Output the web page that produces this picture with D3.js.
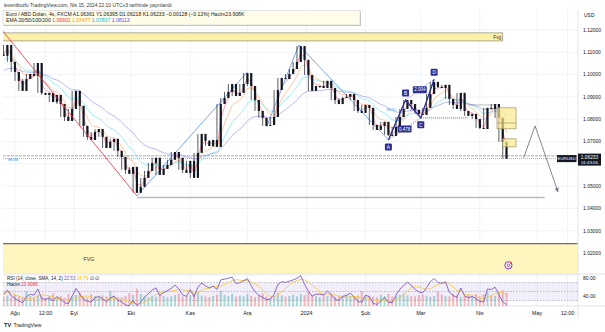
<!DOCTYPE html>
<html><head><meta charset="utf-8">
<script src="https://cdn.jsdelivr.net/npm/d3@7"></script>
<style>body{margin:0;background:#fff}svg{display:block}text{font-family:"Liberation Sans",Arial,sans-serif}</style>
</head><body><svg id="c" width="605" height="332"></svg>
<script>
// ---------- DATA ----------
const barStart = new Date(2023, 6, 26); // first bar date, one bar every 2 days
const closes = [1.1084,1.1133,1.1057,1.1012,1.0972,1.0927,1.0980,1.1003,1.0994,1.1052,
1.0918,1.0909,1.0918,1.0877,1.0909,1.0868,1.0810,1.0792,1.0846,1.0927,
1.0860,1.0770,1.0721,1.0707,1.0743,1.0756,1.0721,1.0671,1.0698,1.0712,
1.0658,1.0631,1.0573,1.0555,1.0586,1.0470,1.0497,1.0537,1.0568,1.0604,
1.0627,1.0550,1.0577,1.0595,1.0618,1.0653,1.0627,1.0573,1.0559,1.0613,
1.0537,1.0649,1.0734,1.0703,1.0680,1.0707,1.0676,1.0868,1.0895,1.0922,
1.0958,1.0904,1.0918,1.0958,1.1007,1.0949,1.0886,1.0837,1.0806,1.0770,
1.0774,1.0810,1.0931,1.0985,1.0980,1.1003,1.1025,1.1057,1.1128,1.1066,
1.0998,1.0927,1.0949,1.0949,1.0940,1.0972,1.0940,1.0886,1.0868,1.0895,
1.0900,1.0913,1.0886,1.0837,1.0828,1.0864,1.0851,1.0774,1.0752,1.0770,
1.0788,1.0730,1.0725,1.0765,1.0810,1.0846,1.0886,1.0868,1.0842,1.0824,
1.0819,1.0851,1.0913,1.0967,1.0945,1.0940,1.0954,1.0891,1.0864,1.0846,
1.0918,1.0837,1.0815,1.0824,1.0801,1.0761,1.0756,1.0851,1.0846,1.0868,
1.0806,1.0698,1.0623];
const firstOpen = 1.1090;
const volumes = [28,31,25,34,29,27,45,30,26,33,29,24,31,38,27,30,25,36,29,33,
41,28,26,35,30,27,32,29,44,31,27,26,30,38,33,52,36,29,27,31,
28,34,30,26,29,33,37,28,30,32,35,40,31,29,27,30,34,46,33,30,
36,28,31,29,35,30,27,33,38,29,24,31,39,32,28,30,34,29,36,33,
42,31,29,27,33,30,35,28,31,29,34,30,27,32,45,29,31,28,26,33,
30,36,29,31,34,38,32,30,29,33,35,31,28,30,43,34,30,29,37,32,
28,31,33,30,36,29,35,41,32,30,38,48,40];
const emaPeriods = [20, 50, 100, 200];
const emaSeeds = [1.1100, 1.1095, 1.1060, 1.1010];
const emaColors = ["#f7525f", "#ff9850", "#4ae0e6", "#7b7ff0"];
const emaLegendValues = ["1.06901", "1.07477", "1.07837", "1.08113"];
const emaLegendColors = ["#f23645", "#ff9800", "#00bcd4", "#3d5afe"];
const priceTicks = [1.12,1.11,1.10,1.09,1.08,1.07,1.05,1.04,1.03,1.02];
const timeTicks = [
 {d:new Date(2023,7,1), t:"Ağu"}, {d:new Date(2023,7,17), t:"12:00"},
 {d:new Date(2023,8,1), t:"Eyl"}, {d:new Date(2023,9,1), t:"Eki"},
 {d:new Date(2023,10,1), t:"Kas"}, {d:new Date(2023,11,1), t:"Ara"},
 {d:new Date(2024,0,1), t:"2024"}, {d:new Date(2024,1,1), t:"Şub"},
 {d:new Date(2024,2,1), t:"Mar"}, {d:new Date(2024,3,1), t:"Nis"},
 {d:new Date(2024,4,1), t:"May"}, {d:new Date(2024,4,17), t:"12:00"}];
const lastPrice = 1.06233;
const fvgTop = {p1:1.1151, p2:1.1187, d1:new Date(2023,6,24), d2:new Date(2024,3,13)};
const fvgBottom = {p1:1.0100, p2:1.0242};
const supportLine = {p:1.0449, d1:new Date(2023,9,4), d2:new Date(2024,4,5)};
const mobLine = 1.0636;
const redTrend = [{d:new Date(2023,6,24), p:1.1212}, {d:new Date(2023,9,4), p:1.0456}];
const blueTrends = [
 [{d:new Date(2023,9,4), p:1.0456}, {d:new Date(2023,11,1), p:1.1012}],
 [{d:new Date(2023,11,11), p:1.0765}, {d:new Date(2023,11,28), p:1.1133}],
 [{d:new Date(2023,11,28), p:1.1133}, {d:new Date(2024,1,13), p:1.0707}]];
const xabcd = [
 {k:"A", d:new Date(2024,1,13), p:1.0707}, {k:"B", d:new Date(2024,1,22), p:1.0886},
 {k:"C", d:new Date(2024,2,1), p:1.0806}, {k:"D", d:new Date(2024,2,8), p:1.0979}];
const ratios = [{t:"0.478", a:0, b:2}, {t:"2.004", a:1, b:3}];
const orderBoxes = [
 {d1:new Date(2024,3,10), d2:new Date(2024,3,20), p1:1.0757, p2:1.0851, mid:1.0783},
 {d1:new Date(2024,3,13), d2:new Date(2024,3,20), p1:1.0676, p2:1.0712, mid:null}];
const dottedLevels = [
 {p:1.0806, d1:new Date(2024,2,1), d2:new Date(2024,2,26)},
 {p:1.0864, d1:new Date(2024,2,26), d2:new Date(2024,3,10)}];
const projection = [{d:new Date(2024,3,24), p:1.0627}, {d:new Date(2024,3,30), p:1.0770}, {d:new Date(2024,4,12), p:1.0474}];

// ---------- LAYOUT ----------
const svg = d3.select("#c");
const L = 3, R = 578, mainTop = 10, mainBot = 274, rsiTop = 274, rsiBot = 306;
const x = d3.scaleTime().domain([new Date(2023,7,1), new Date(2024,4,1)]).range([15, 537]);
const y = d3.scaleLinear().domain([1.02, 1.12]).range([253, 30]);
const yRsi = d3.scaleLinear().domain([40, 80]).range([296, 278]);
const yVol = d3.scaleLinear().domain([0, 60]).range([rsiBot, 286]);

const bars = closes.map((c,i)=>({date:d3.timeDay.offset(barStart, 2*i), open: i ? closes[i-1] : firstOpen, close:c, next: i<closes.length-1 ? closes[i+1] : c, vol:volumes[i]}));

svg.append("rect").attr("width",605).attr("height",332).attr("fill","#fff");
const defs = svg.append("defs");
defs.append("clipPath").attr("id","mainClip").append("rect").attr("x",L).attr("y",mainTop).attr("width",R-L).attr("height",mainBot-mainTop);
defs.append("clipPath").attr("id","rsiClip").append("rect").attr("x",L).attr("y",rsiTop).attr("width",R-L).attr("height",rsiBot-rsiTop);
defs.append("marker").attr("id","arrow").attr("viewBox","0 0 10 10").attr("refX",9).attr("refY",5)
 .attr("markerWidth",5).attr("markerHeight",5).attr("orient","auto")
 .append("path").attr("d","M0,0 L10,5 L0,10 z").attr("fill","#787b86");

// grid
const grid = svg.append("g");
grid.selectAll("line.v").data(timeTicks).join("line").attr("x1",d=>x(d.d)).attr("x2",d=>x(d.d))
 .attr("y1",mainTop).attr("y2",rsiBot).attr("stroke","#f0f3fa").attr("stroke-width",1);
grid.selectAll("line.h").data(d3.range(1.01,1.125,0.01)).join("line").attr("x1",L).attr("x2",R)
 .attr("y1",d=>y(d)).attr("y2",d=>y(d)).attr("stroke","#f0f3fa");

const main = svg.append("g").attr("clip-path","url(#mainClip)");

// FVG zones
main.append("rect").attr("x",L).attr("width",R-L).attr("y",y(fvgBottom.p2)).attr("height",y(fvgBottom.p1)-y(fvgBottom.p2))
 .attr("fill","#fff6bf");
main.append("line").attr("x1",L).attr("x2",R).attr("y1",y(fvgBottom.p2)).attr("y2",y(fvgBottom.p2)).attr("stroke","#6a6d78").attr("stroke-width",1.3);
main.append("text").attr("x",x(new Date(2023,8,6))).attr("y",y((fvgBottom.p1+fvgBottom.p2)/2)+2).attr("font-size",5.2).attr("fill","#333").text("FVG");
main.append("rect").attr("x",x(fvgTop.d1)).attr("width",x(fvgTop.d2)-x(fvgTop.d1)).attr("y",y(fvgTop.p2)).attr("height",y(fvgTop.p1)-y(fvgTop.p2))
 .attr("fill","#fdf0a8").attr("stroke","#8d8a78").attr("stroke-width",0.7);
main.append("text").attr("x",x(fvgTop.d2)-1.5).attr("y",y((fvgTop.p1+fvgTop.p2)/2)+1.7).attr("text-anchor","end").attr("font-size",4.8).attr("fill","#333").text("Fvg");

// horizontal levels
main.append("line").attr("x1",x(supportLine.d1)).attr("x2",x(supportLine.d2)).attr("y1",y(supportLine.p)).attr("y2",y(supportLine.p))
 .attr("stroke","#b8bbc4").attr("stroke-width",1.6);
main.append("line").attr("x1",L).attr("x2",R).attr("y1",y(mobLine)).attr("y2",y(mobLine)).attr("stroke","#c3c5cc").attr("stroke-width",1.4).attr("stroke-dasharray","3,1");
main.append("line").attr("x1",L).attr("x2",R).attr("y1",y(lastPrice)).attr("y2",y(lastPrice)).attr("stroke","#9a9ca5").attr("stroke-width",0.8).attr("stroke-dasharray","1,1");
main.append("text").attr("x",8).attr("y",y(mobLine)+5.5).attr("font-size",4.3).attr("fill","#2196f3").text("MOB");

// EMAs
emaPeriods.forEach((n,k)=>{
  const alpha = 2/(n/8.6+1);
  let v = emaSeeds[k];
  const pts = bars.map(b=>{ v = v + alpha*(b.close - v); return {d:b.date, v}; });
  main.append("path").datum(pts).attr("fill","none").attr("stroke",emaColors[k]).attr("stroke-width",0.9).attr("opacity",0.6)
   .attr("d", d3.line().curve(d3.curveMonotoneX).x(d=>x(d.d)).y(d=>y(d.v)));
});

// blue trend lines
main.selectAll("path.bt").data(blueTrends).join("path").attr("fill","none").attr("stroke","#7ea6f5").attr("stroke-width",1)
 .attr("d", d3.line().x(d=>x(d.d)).y(d=>y(d.p)));

// candles
const bw = 2.2;
main.selectAll("line.w").data(bars).join("line")
 .attr("x1",d=>x(d.date)).attr("x2",d=>x(d.date))
 .attr("y1",d=>y(Math.max(d.open,d.close,d.next))).attr("y2",d=>y(Math.min(d.open,d.close,d.next)))
 .attr("stroke","#131722").attr("stroke-width",0.7);
main.selectAll("rect.c").data(bars).join("rect")
 .attr("x",d=>x(d.date)-bw/2).attr("width",bw)
 .attr("y",d=>y(Math.max(d.open,d.close))).attr("height",d=>Math.max(1,Math.abs(y(d.open)-y(d.close))))
 .attr("fill","#131722");

// red trend line
main.append("path").datum(redTrend).attr("fill","none").attr("stroke","#f23645").attr("stroke-width",1).attr("opacity",0.85)
 .attr("d", d3.line().x(d=>x(d.d)).y(d=>y(d.p)));

// XABCD
const navy = "#2e2f8f";
const ln = d3.line().x(d=>x(d.d)).y(d=>y(d.p));
main.append("path").datum(xabcd).attr("fill","none").attr("stroke",navy).attr("stroke-width",1.4).attr("d",ln);
ratios.forEach(r=>{
  const a = xabcd[r.a], b = xabcd[r.b];
  main.append("path").datum([a,b]).attr("fill","none").attr("stroke",navy).attr("stroke-width",0.7).attr("stroke-dasharray","1,1.5").attr("d",ln);
  const mx = (x(a.d)+x(b.d))/2, my = (y(a.p)+y(b.p))/2;
  const g = main.append("g").attr("transform",`translate(${mx},${my})`);
  g.append("rect").attr("x",-7).attr("y",-3.5).attr("width",14).attr("height",7).attr("rx",1).attr("fill",navy);
  g.append("text").attr("y",1.6).attr("text-anchor","middle").attr("font-size",4.5).attr("fill","#fff").text(r.t);
});
xabcd.forEach((pt,i)=>{
  const up = (i%2===1);
  const g = main.append("g").attr("transform",`translate(${x(pt.d)},${y(pt.p)+(up?-7:7)})`);
  g.append("rect").attr("x",-3.5).attr("y",-3.5).attr("width",7).attr("height",7).attr("rx",1).attr("fill",navy);
  g.append("text").attr("y",1.7).attr("text-anchor","middle").attr("font-size",4.7).attr("fill","#fff").text(pt.k);
});
main.append("text").attr("x",x(xabcd[0].d)-2).attr("y",y(1.0835)).attr("font-size",4.1).attr("fill","#42a5f5").text("MOD");

// order boxes
orderBoxes.forEach(b=>{
  main.append("rect").attr("x",x(b.d1)).attr("width",x(b.d2)-x(b.d1)).attr("y",y(b.p2)).attr("height",y(b.p1)-y(b.p2))
   .attr("fill","#fbe98a").attr("fill-opacity",0.7).attr("stroke","#9c9470").attr("stroke-width",0.7);
  if (b.mid) main.append("line").attr("x1",x(b.d1)).attr("x2",x(b.d2)).attr("y1",y(b.mid)).attr("y2",y(b.mid)).attr("stroke","#9c9470").attr("stroke-width",0.7);
});
dottedLevels.forEach(l=>{
  main.append("line").attr("x1",x(l.d1)).attr("x2",x(l.d2)).attr("y1",y(l.p)).attr("y2",y(l.p)).attr("stroke","#555").attr("stroke-width",0.8).attr("stroke-dasharray","1,1");
});
main.append("path").datum(projection).attr("fill","none").attr("stroke","#787b86").attr("stroke-width",0.9)
 .attr("marker-end","url(#arrow)").attr("d",ln);

// icon
const ic = svg.append("g").attr("transform",`translate(${x(new Date(2024,3,16))},${y(1.0145)})`);
ic.append("circle").attr("r",3.6).attr("fill","#fff").attr("stroke","#9c27b0").attr("stroke-width",1);
ic.append("circle").attr("r",1.3).attr("fill","none").attr("stroke","#9c27b0").attr("stroke-width",0.8);
ic.append("circle").attr("cx",2.5).attr("cy",-2.5).attr("r",0.9).attr("fill","#f23645");

// pane separator & axis line
svg.append("line").attr("x1",L).attr("x2",605).attr("y1",rsiTop).attr("y2",rsiTop).attr("stroke","#e0e3eb");
svg.append("line").attr("x1",R).attr("x2",R).attr("y1",mainTop).attr("y2",rsiBot+12).attr("stroke","#e0e3eb");
svg.append("line").attr("x1",L).attr("x2",605).attr("y1",rsiBot).attr("y2",rsiBot).attr("stroke","#e0e3eb");

// price axis
svg.append("text").attr("x",584).attr("y",17).attr("font-size",5).attr("fill","#131722").text("USD");
svg.selectAll("text.pt").data(priceTicks).join("text").attr("x",583).attr("y",d=>y(d)+1.8).attr("font-size",5).attr("fill","#131722").text(d=>d.toFixed(5));
const pb = svg.append("g");
pb.append("rect").attr("x",557).attr("y",y(lastPrice)-3.5).attr("width",19.5).attr("height",7).attr("fill","#131722");
pb.append("text").attr("x",566.7).attr("y",y(lastPrice)+1.5).attr("text-anchor","middle").attr("font-size",4.3).attr("fill","#fff").text("EURUSD");
pb.append("rect").attr("x",578).attr("y",y(lastPrice)-5).attr("width",23).attr("height",12).attr("fill","#131722");
pb.append("text").attr("x",589.5).attr("y",y(lastPrice)+0.8).attr("text-anchor","middle").attr("font-size",4.8).attr("fill","#fff").text(lastPrice.toFixed(5));
pb.append("text").attr("x",589.5).attr("y",y(lastPrice)+5.6).attr("text-anchor","middle").attr("font-size",4.3).attr("fill","#fff").text("01:43:06");

// ---------- RSI pane ----------
const rsiG = svg.append("g").attr("clip-path","url(#rsiClip)");
rsiG.selectAll("rect.v").data(bars).join("rect").attr("x",d=>x(d.date)-1).attr("width",2)
 .attr("y",d=>yVol(d.vol)).attr("height",d=>rsiBot-yVol(d.vol))
 .attr("fill",d=>d.close>=d.open?"#26a69a":"#ef5350").attr("opacity",0.4);
rsiG.append("rect").attr("x",L).attr("width",R-L).attr("y",yRsi(70)).attr("height",yRsi(30)-yRsi(70)).attr("fill","#7e57c2").attr("opacity",0.1);
[70,50,30].forEach(v=>rsiG.append("line").attr("x1",L).attr("x2",R).attr("y1",yRsi(v)).attr("y2",yRsi(v)).attr("stroke","#9598a1").attr("stroke-width",0.6).attr("stroke-dasharray","1.5,1.5"));
// RSI (Wilder) on bar closes
const per = 6; let ag=0, al=0; const rsi=[];
bars.forEach((b,i)=>{
  const ch = b.close - b.open, g = Math.max(ch,0), l = Math.max(-ch,0);
  if (i===0){ag=g+0.002; al=l+0.002;} else {ag=(ag*(per-1)+g)/per; al=(al*(per-1)+l)/per;}
  rsi.push({d:b.date, v: al===0?100:100-100/(1+ag/al)});
});
const rsiMa = rsi.map((r,i)=>({d:r.d, v:d3.mean(rsi.slice(Math.max(0,i-4),i+1),q=>q.v)}));
const rl = d3.line().x(d=>x(d.d)).y(d=>yRsi(d.v));
rsiG.append("path").datum(rsiMa).attr("fill","none").attr("stroke","#f7c948").attr("stroke-width",0.9).attr("d",rl);
rsiG.append("path").datum(rsi).attr("fill","none").attr("stroke","#7e57c2").attr("stroke-width",0.9).attr("d",rl);
svg.append("text").attr("x",583).attr("y",yRsi(80)+1.8).attr("font-size",5).attr("fill","#131722").text("80.00");
svg.append("text").attr("x",583).attr("y",yRsi(40)+1.8).attr("font-size",5).attr("fill","#131722").text("40.00");
const rt = svg.append("text").attr("x",7).attr("y",280).attr("font-size",4.6).attr("fill","#131722");
rt.append("tspan").text("RSI (14, close, SMA, 14, 2)  ");
rt.append("tspan").attr("fill","#7e57c2").text("22.53  ");
rt.append("tspan").attr("fill","#f5b700").text("24.79  ");
rt.append("tspan").text("∅  ∅");
const vt = svg.append("text").attr("x",7).attr("y",286).attr("font-size",4.6).attr("fill","#131722");
vt.append("tspan").text("Hacim  ");
vt.append("tspan").attr("fill","#f23645").text("23.908K");

// time axis
svg.selectAll("text.tt").data(timeTicks).join("text").attr("x",d=>x(d.d)).attr("y",315).attr("text-anchor","middle")
 .attr("font-size",5.4).attr("fill","#131722").text(d=>d.t);

// header + legend
svg.append("text").attr("x",4).attr("y",6.5).attr("font-size",4.9).attr("fill","#333").text("leventbuzlu TradingView.com, Nis 15, 2024 22:10 UTC+3 tarihinde yayınlandı");
svg.append("rect").attr("x",4).attr("y",11.5).attr("width",357).attr("height",14.5).attr("fill","#888").attr("opacity",0.5);
svg.append("rect").attr("x",3).attr("y",10.5).attr("width",357).attr("height",14.5).attr("fill","#fffde9").attr("stroke","#c9cbd1").attr("stroke-width",0.5);
svg.append("text").attr("x",6).attr("y",16.4).attr("font-size",5.1).attr("fill","#131722")
 .text("Euro / ABD Doları, 4s, FXCM   A1.06361   Y1.06395   D1.06218   K1.06233   −0.00128 (−0.12%)   Hacim23.908K");
const el = svg.append("text").attr("x",6).attr("y",22.4).attr("font-size",5.1).attr("fill","#131722");
el.append("tspan").text("EMA 20/50/100/200  ");
emaLegendValues.forEach((v,k)=>el.append("tspan").attr("fill",emaLegendColors[k]).text(v+"  "));

// logo
const lg = svg.append("g").attr("transform","translate(4,326.5)");
lg.append("text").attr("font-size",5.6).attr("font-weight","bold").attr("fill","#131722").text("TV");
lg.append("text").attr("x",9.5).attr("font-size",5.1).attr("fill","#131722").text("TradingView");
</script></body></html>
